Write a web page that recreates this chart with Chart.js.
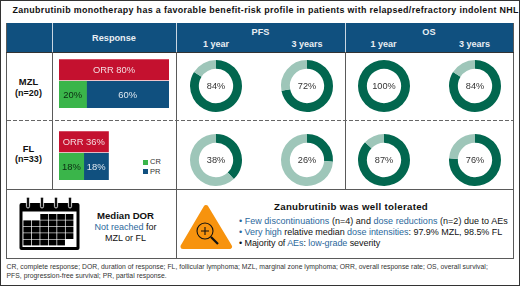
<!DOCTYPE html>
<html><head><meta charset="utf-8">
<script src="https://cdn.jsdelivr.net/npm/chart.js@4"></script>
<style>
html,body{margin:0;padding:0;background:#fff}
body{width:520px;height:286px;position:relative;overflow:hidden;font-family:"Liberation Sans",Arial,sans-serif;color:#111}
.t{position:absolute;white-space:nowrap;line-height:1}
.c{transform:translateX(-50%);text-align:center}
.b{font-weight:700}
.w{color:#e9eef3;font-weight:700}
.bl{color:#2b689c}
.l{position:absolute;background:#5a5a5a}
.dash{position:absolute;height:1px;background:repeating-linear-gradient(90deg,#666 0 4px,transparent 4px 6px)}
canvas{display:block}
.cw{position:absolute}
#edge{position:absolute;left:0;top:0;width:518px;height:284px;border:1px solid #333}
#head{position:absolute;left:7px;top:23px;width:506px;height:29px;background:#10507f}
</style></head><body>
<div id="edge"></div>
<div class="t b" style="left:12.5px;top:5.8px;font-size:8.9px;letter-spacing:.35px" id="title"></div>
<div id="head"></div>
<div class="l" style="left:6px;top:23px;width:1px;height:236px"></div>
<div class="l" style="left:513px;top:23px;width:1px;height:236px"></div>
<div class="l" style="left:6px;top:258px;width:508px;height:1px"></div>
<div class="l" style="left:6px;top:52px;width:508px;height:1px;background:#333"></div>
<div class="l" style="left:6px;top:189px;width:508px;height:1px"></div>
<div class="l" style="left:51.5px;top:52px;width:1px;height:137px"></div>
<div class="l" style="left:175.5px;top:52px;width:1px;height:206px"></div>
<div class="l" style="left:344.5px;top:52px;width:1px;height:137px"></div>
<div class="l" style="left:51.5px;top:23px;width:1px;height:29px;background:#c9d6e2"></div>
<div class="l" style="left:175.5px;top:23px;width:1px;height:29px;background:#c9d6e2"></div>
<div class="l" style="left:344.5px;top:23px;width:1px;height:29px;background:#c9d6e2"></div>
<div class="dash" style="left:7px;top:119.5px;width:506px"></div>

<div class="t c w" style="left:114px;top:33.5px;font-size:9.2px">Response</div>
<div class="t c w" style="left:260.5px;top:27.5px;font-size:9.2px">PFS</div>
<div class="t c w" style="left:429px;top:27.5px;font-size:9.2px">OS</div>
<div class="t c w" style="left:216px;top:39.5px;font-size:9px">1 year</div>
<div class="t c w" style="left:307px;top:39.5px;font-size:9px">3 years</div>
<div class="t c w" style="left:383.5px;top:39.5px;font-size:9px">1 year</div>
<div class="t c w" style="left:474.5px;top:39.5px;font-size:9px">3 years</div>

<div class="t c b" style="left:28.5px;top:76.8px;font-size:9.4px">MZL</div>
<div class="t c b" style="left:28.5px;top:88.5px;font-size:9px">(n=20)</div>
<div class="t c b" style="left:28.5px;top:143.8px;font-size:9.4px">FL</div>
<div class="t c b" style="left:28.5px;top:155px;font-size:9px">(n=33)</div>

<div style="position:absolute;left:142.5px;top:159.5px;width:5px;height:5px;background:#3ab54a"></div>
<div style="position:absolute;left:142.5px;top:169px;width:5px;height:5px;background:#10507f"></div>
<div class="t" style="left:150px;top:158.3px;font-size:7.5px;color:#333">CR</div>
<div class="t" style="left:150px;top:167.8px;font-size:7.5px;color:#333">PR</div>

<svg id="cal" style="position:absolute;left:0;top:0" width="520" height="286"></svg>

<div class="t c b" style="left:125.5px;top:210.5px;font-size:9.6px">Median DOR</div>
<div class="t c" style="left:125.5px;top:222.5px;font-size:9px"><span class="bl">Not reached</span> for</div>
<div class="t c" style="left:125.5px;top:233.5px;font-size:9px">MZL or FL</div>

<div class="t b" style="left:274px;top:201.5px;font-size:9.7px;letter-spacing:.3px">Zanubrutinib was well tolerated</div>
<div class="t" style="left:239px;top:216.5px;font-size:9px;letter-spacing:.03px"><span class="bl">• Few discontinuations</span> (n=4) and <span class="bl">dose reductions</span> (n=2) due to AEs</div>
<div class="t" style="left:239px;top:228px;font-size:9px;letter-spacing:-.04px"><span class="bl">• Very high</span> relative median <span class="bl">dose intensities</span>: 97.9% MZL, 98.5% FL</div>
<div class="t" style="left:239px;top:239.3px;font-size:9px;letter-spacing:-.07px">• Majority of <span class="bl">AEs</span>: <span class="bl">low-grade</span> severity</div>

<div class="t" style="left:6.5px;top:264px;font-size:6.8px;color:#333;letter-spacing:.03px">CR, complete response; DOR, duration of response; FL, follicular lymphoma; MZL, marginal zone lymphoma; ORR, overall response rate; OS, overall survival;</div>
<div class="t" style="left:6.5px;top:273.2px;font-size:6.8px;color:#333;letter-spacing:.03px">PFS, progression-free survival; PR, partial response.</div>

<script>
const titleText = "Zanubrutinib monotherapy has a favorable benefit-risk profile in patients with relapsed/refractory indolent NHL";
document.getElementById('title').textContent = titleText;

// Response bars (percent)
const barCategories = ["ORR", "CR/PR"];
const mzlORR = [80, null];
const mzlCR  = [null, 20];
const mzlPR  = [null, 60];
const flORR  = [36, null];
const flCR   = [null, 18];
const flPR   = [null, 18];

// Donut values (percent), order: PFS 1y, PFS 3y, OS 1y, OS 3y
const mzlSurvival = [84, 72, 100, 84];
const flSurvival  = [38, 26, 87, 76];

const RED="#c4112f", GREEN="#3ab54a", BLUE="#10507f", DARK="#02674f", LIGHT="#9ec6b9";
Chart.defaults.animation=false;
Chart.defaults.responsive=false;

const barLabels={id:'barLabels',afterDatasetsDraw(ch){
  const x=ch.ctx;x.save();x.textAlign='center';x.textBaseline='middle';
  x.font='9.4px "Liberation Sans"';
  ch.data.datasets.forEach((d,i)=>{
    ch.getDatasetMeta(i).data.forEach((el,j)=>{
      if(d.data[j]==null)return;
      const p=el.getProps(['x','base','y'],true);
      x.fillStyle=d.textColor;
      x.fillText(d.prefix+d.data[j]+'%',(p.x+p.base)/2,p.y+.5);
    });
  });x.restore();
}};
function barChart(left,top,w,h,orr,cr,pr){
  const wrap=document.createElement('div');wrap.className='cw';
  wrap.style.cssText=`left:${left}px;top:${top}px;width:${w}px;height:${h}px`;
  const cv=document.createElement('canvas');cv.width=w;cv.height=h;wrap.appendChild(cv);document.body.appendChild(wrap);
  new Chart(cv,{type:'bar',plugins:[barLabels],data:{labels:barCategories,datasets:[
    {data:orr,backgroundColor:RED,barThickness:20.5,prefix:'ORR ',textColor:'#f3dce0'},
    {data:cr,backgroundColor:GREEN,barThickness:28,prefix:'',textColor:'#0c2b12'},
    {data:pr,backgroundColor:BLUE,barThickness:28,prefix:'',textColor:'#dfe8f0'}
  ]},options:{indexAxis:'y',layout:{padding:0},
    plugins:{legend:{display:false},tooltip:{enabled:false}},
    scales:{x:{stacked:true,display:false,min:0,max:80,offset:false},y:{stacked:true,display:false}}}});
}
barChart(59,57,110,51,mzlORR,mzlCR,mzlPR);
barChart(59,129,110,51,flORR,flCR,flPR);

const centerLabel={id:'centerLabel',afterDraw(ch){
  const m=ch.getDatasetMeta(0).data[0],x=ch.ctx;x.save();
  x.font='9.2px "Liberation Sans"';x.fillStyle='#333';x.textAlign='center';x.textBaseline='middle';
  x.fillText(ch.data.datasets[0].data[0]+'%',m.x,m.y+.5);x.restore();
}};
function donut(cx,cy,v){
  const s=56,wrap=document.createElement('div');wrap.className='cw';
  wrap.style.cssText=`left:${cx-s/2}px;top:${cy-s/2}px;width:${s}px;height:${s}px`;
  const cv=document.createElement('canvas');cv.width=s;cv.height=s;wrap.appendChild(cv);document.body.appendChild(wrap);
  new Chart(cv,{type:'doughnut',plugins:[centerLabel],data:{labels:['Rate','Remainder'],
    datasets:[{data:[v,100-v],backgroundColor:[DARK,LIGHT],borderWidth:0}]},
    options:{cutout:'66%',radius:26,layout:{padding:0},plugins:{legend:{display:false},tooltip:{enabled:false}}}});
}
const donutX=[216,307,383.5,474.5];
mzlSurvival.forEach((v,i)=>donut(donutX[i],86,v));
flSurvival.forEach((v,i)=>donut(donutX[i],159.5,v));

// Icons
let s='<rect x="19.5" y="203" width="60" height="47" rx="2" fill="#000"/>';
s+='<rect x="22.5" y="211.5" width="54" height="35.5" fill="#fff"/>';
[28,42,56,70].forEach(x=>{s+=`<rect x="${x-1.6}" y="197" width="3.2" height="11" rx="1.6" fill="#111" stroke="#fff" stroke-width=".8"/>`;});
const cols=[23.4,31.85,40.3,48.75,57.2,65.65],rows=[214,220.4,226.8,233.2,239.6];
rows.forEach((y,r)=>cols.forEach((x,c)=>{
  if(r==0&&c<2)return; if(r==4&&c>4)return;
  s+=`<rect x="${x}" y="${y}" width="7.75" height="5.8" fill="#000"/>`;
}));
// warning triangle
s+='<path d="M206 207.5 L229.5 246.5 L183 246.5 Z" fill="#f7930e" stroke="#f7930e" stroke-width="5" stroke-linejoin="round"/>';
s+='<circle cx="205" cy="231" r="8" fill="none" stroke="#111" stroke-width="1.1"/>';
s+='<path d="M201 231h8M205 227v8" stroke="#111" stroke-width="1.1"/>';
s+='<path d="M211 237 L218 244" stroke="#111" stroke-width="2.2"/>';
document.getElementById('cal').innerHTML=s;
</script>
</body></html>
